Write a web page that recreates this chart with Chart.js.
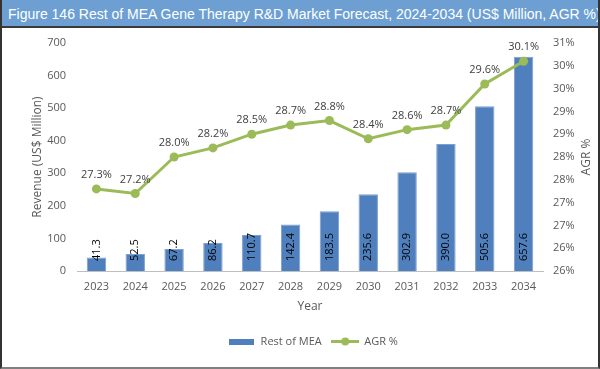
<!DOCTYPE html>
<html>
<head>
<meta charset="utf-8">
<script src="https://cdn.jsdelivr.net/npm/chart.js@4.4.0/dist/chart.umd.min.js"></script>
<style>
    html, body { margin: 0; padding: 0; background: #fff; }
    #wrap { position: relative; width: 600px; height: 369px; overflow: hidden; }
    #c { position: absolute; left: 0; top: 0; }
    #title {
        position: absolute; left: 0; top: 0; width: 600px; height: 28px;
        background: #6d9fd3; border-bottom: 2px solid #3a3a3a;
        color: #fff; font: 14px "Liberation Sans", Arial, sans-serif;
        line-height: 28px; padding-left: 8px; box-sizing: border-box; white-space: nowrap;
    }
    #frame {
        position: absolute; left: 0; top: 0; width: 600px; height: 369px; box-sizing: border-box;
        border-left: 2px solid #333; border-right: 2px solid #333; border-bottom: 2px solid #808080;
        pointer-events: none;
    }
</style>
</head>
<body>
<div id="wrap">
    <canvas id="c" width="600" height="369"></canvas>
    <div id="title">Figure 146 Rest of MEA Gene Therapy R&amp;D Market Forecast, 2024-2034 (US$ Million, AGR %)</div>
    <div id="frame"></div>
</div>
<script>
(function () {

    const years = ['2023', '2024', '2025', '2026', '2027', '2028', '2029', '2030', '2031', '2032', '2033', '2034'];
    const revenue = [41.3, 52.5, 67.2, 86.2, 110.7, 142.4, 183.5, 235.6, 302.9, 390.0, 505.6, 657.6];
    const agr = [27.3, 27.2, 28.0, 28.2, 28.5, 28.7, 28.8, 28.4, 28.6, 28.7, 29.6, 30.1];
    const seriesNames = ['Rest of MEA', 'AGR %'];

    const barColor = '#4f7fbd';
    const lineColor = '#9bbb59';
    const textColor = '#595959';
    const fontFamily = '"Open Sans", "Liberation Sans", sans-serif';

    // little legend symbols
    let swatchBar = document.createElement('canvas');
    swatchBar.width = 25; swatchBar.height = 6;
    let g = swatchBar.getContext('2d');
    g.fillStyle = barColor;
    g.fillRect(0, 0, 25, 6);

    let swatchLine = document.createElement('canvas');
    swatchLine.width = 28; swatchLine.height = 9;
    g = swatchLine.getContext('2d');
    g.strokeStyle = lineColor; g.lineWidth = 3;
    g.beginPath(); g.moveTo(0, 4.5); g.lineTo(28, 4.5); g.stroke();
    g.fillStyle = lineColor;
    g.beginPath(); g.arc(14, 4.5, 4, 0, Math.PI * 2); g.fill();

    const valueLabels = {
        id: 'valueLabels',
        afterDatasetsDraw(chart) {
            const ctx = chart.ctx;
            ctx.save();
            ctx.font = '11px ' + fontFamily;

            // bar values, rotated, from the base
            let bars = chart.getDatasetMeta(0);
            ctx.fillStyle = '#000';
            ctx.textAlign = 'left';
            ctx.textBaseline = 'middle';
            bars.data.forEach(function (el, i) {
                ctx.save();
                ctx.translate(el.x, el.base - 10);
                ctx.rotate(-Math.PI / 2);
                ctx.fillText(revenue[i].toFixed(1), 0, 0);
                ctx.restore();
            });

            // AGR values above the points
            let pts = chart.getDatasetMeta(1);
            ctx.fillStyle = '#404040';
            ctx.textAlign = 'center';
            pts.data.forEach(function (el, i) {
                ctx.fillText(agr[i].toFixed(1) + '%', el.x, el.y - 14);
            });

            // right axis title reads bottom to top
            let a = chart.chartArea;
            ctx.fillStyle = textColor;
            ctx.font = '12px ' + fontFamily;
            ctx.translate(587, (a.top + a.bottom) / 2);
            ctx.rotate(-Math.PI / 2);
            ctx.fillText('AGR %', 0, 0);
            ctx.restore();
        }
    };

    const data = {
        labels: years,
        datasets: [{
                type: 'bar',
                label: seriesNames[0],
                data: revenue,
                yAxisID: 'y',
                backgroundColor: barColor,
                borderColor: '#7c9fd0',
                borderWidth: 1,
                categoryPercentage: 0.5,
                barPercentage: 1,
                order: 2
            }, {
                type: 'line',
                label: seriesNames[1],
                data: agr,
                yAxisID: 'y1',
                borderColor: lineColor,
                backgroundColor: lineColor,
                borderWidth: 3,
                pointRadius: 4.5,
                pointHoverRadius: 4.5,
                pointBackgroundColor: lineColor,
                pointBorderWidth: 0,
                tension: 0,
                order: 1
            }]
    };

    const config = {
        type: 'bar',
        data: data,
        plugins: [valueLabels],
        options: {
            responsive: false,
            animation: false,
            layout: {
                padding: {top: 43, left: 26, right: 0, bottom: 12}
            },
            scales: {
                x: {
                    grid: {display: false, drawTicks: false},
                    border: {display: true, color: '#bfbfbf', width: 1},
                    ticks: {color: textColor, font: {family: fontFamily, size: 11}, padding: 9},
                    title: {display: true, text: 'Year', color: textColor, font: {family: fontFamily, size: 12}, padding: {top: 0, bottom: 12}},
                    afterFit: function (s) { s.height = 55; }
                },
                y: {
                    position: 'left',
                    min: 0,
                    max: 700,
                    grid: {display: false, drawTicks: false},
                    border: {display: false},
                    ticks: {stepSize: 100, color: textColor, font: {family: fontFamily, size: 11}, padding: 11},
                    title: {display: true, text: 'Revenue (US$ Million)', color: textColor, font: {family: fontFamily, size: 12}, padding: {top: 4, bottom: 0}},
                    afterFit: function (s) { s.width = 51; }
                },
                y1: {
                    position: 'right',
                    min: 25.5,
                    max: 30.5,
                    grid: {display: false, drawTicks: false},
                    border: {display: false},
                    ticks: {
                        stepSize: 0.5,
                        color: textColor,
                        font: {family: fontFamily, size: 11},
                        padding: 10,
                        callback: function (v) { return Math.round(v) + '%'; }
                    },
                    afterFit: function (s) { s.width = 57; }
                }
            },
            plugins: {
                title: {display: false},
                tooltip: {enabled: false},
                legend: {
                    position: 'bottom',
                    labels: {
                        usePointStyle: true,
                        pointStyleWidth: 27,
                        padding: 10,
                        color: textColor,
                        font: {family: fontFamily, size: 11},
                        generateLabels: function (chart) {
                            let items = Chart.defaults.plugins.legend.labels.generateLabels(chart);
                            items.sort(function (a, b) { return a.datasetIndex - b.datasetIndex; });
                            items.forEach(function (it) {
                                it.pointStyle = it.datasetIndex === 0 ? swatchBar : swatchLine;
                            });
                            return items;
                        }
                    }
                }
            }
        }
    };

    const myChart = new Chart(document.getElementById('c').getContext('2d'), config);

})();
</script>
</body>
</html>
